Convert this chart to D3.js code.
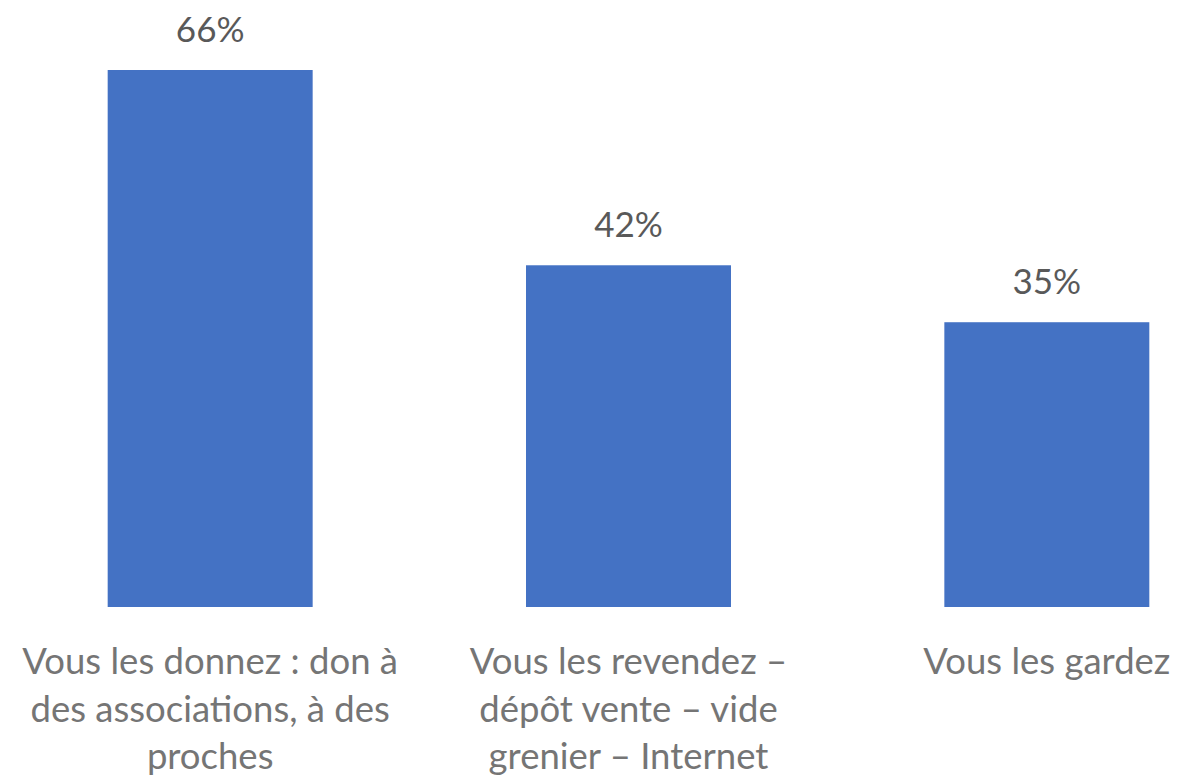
<!DOCTYPE html>
<html>
<head>
<meta charset="utf-8">
<script src="https://cdn.jsdelivr.net/npm/d3@7"></script>
<style>
  html, body { margin: 0; padding: 0; background: #fff; }
  svg { display: block; }
  text { font-family: Lato, "Open Sans", sans-serif; }
</style>
</head>
<body>
<svg id="chart" width="1179" height="778"></svg>
<script>
// Where clothes end up once they are no longer worn
const categories = [
  "Vous les donnez : don à des associations, à des proches",
  "Vous les revendez – dépôt vente – vide grenier – Internet",
  "Vous les gardez"
];
const categoryLines = [
  ["Vous les donnez : don à", "des associations, à des", "proches"],
  ["Vous les revendez –", "dépôt vente – vide", "grenier – Internet"],
  ["Vous les gardez"]
];
const values = [66, 42, 35];

const width = 1179, height = 778;
const baseline = 607;

const svg = d3.select("#chart");

const x = d3.scaleBand()
  .domain(categories)
  .range([1, 1256])
  .paddingInner(0.51)
  .paddingOuter(0.255);

const y = d3.scaleLinear()
  .domain([0, 66])
  .range([baseline, 70]);

// Bars
svg.append("g")
  .selectAll("rect")
  .data(values)
  .join("rect")
  .attr("x", (d, i) => x(categories[i]))
  .attr("y", d => y(d))
  .attr("width", x.bandwidth())
  .attr("height", d => baseline - y(d))
  .attr("fill", "#4472C4");

// Value labels
svg.append("g")
  .selectAll("text")
  .data(values)
  .join("text")
  .attr("x", (d, i) => x(categories[i]) + x.bandwidth() / 2)
  .attr("y", d => y(d) - 28)
  .attr("text-anchor", "middle")
  .attr("font-size", 35)
  .attr("fill", "#595959")
  .text(d => d + "%");

// Category labels, wrapped over several lines
const labels = svg.append("g")
  .selectAll("text")
  .data(categories)
  .join("text")
  .attr("text-anchor", "middle")
  .attr("font-size", 36.5)
  .attr("fill", "#757575");

labels.each(function(c, i) {
  const t = d3.select(this);
  const cx = x(c) + x.bandwidth() / 2;
  categoryLines[i].forEach((line, j) => {
    t.append("tspan")
      .attr("x", cx)
      .attr("y", baseline + 67 + j * 47.5)
      .text(line);
  });
});
</script>
</body>
</html>
